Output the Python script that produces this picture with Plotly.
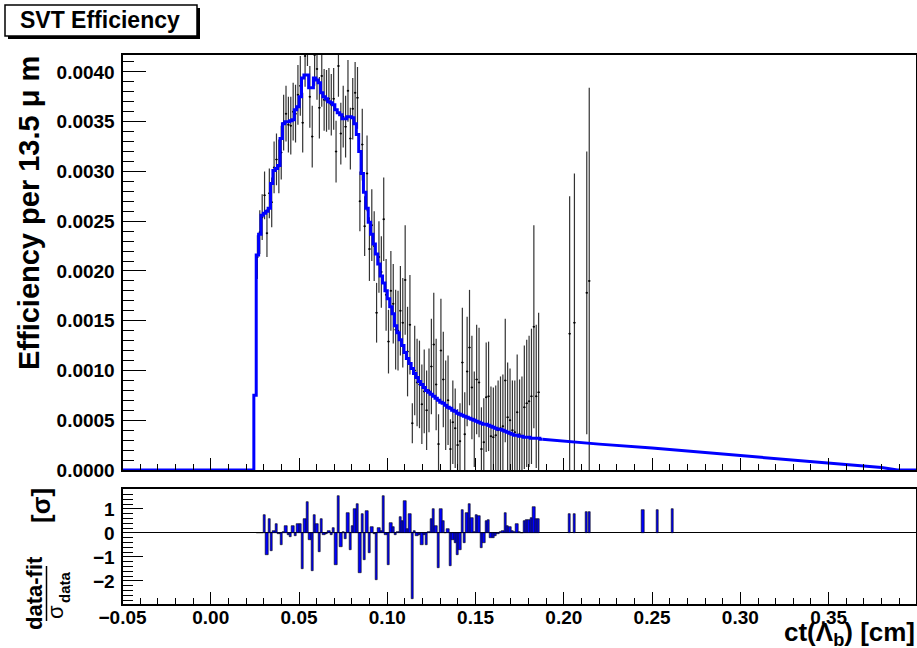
import plotly.graph_objects as go

# ---------------- data ----------------
BIN_W = 0.00135          # 13.5 micron bins
CT_START = 0.0244        # left edge of first non-zero fit bin
X_MIN, X_MAX = -0.05, 0.3995

# fit (blue step curve), one value per bin starting at CT_START
fit_vals = [
    0.00075, 0.00216, 0.00237, 0.00256, 0.00258, 0.00260, 0.00263, 0.00288, 0.00301, 0.00303,
    0.00306, 0.00333, 0.00348, 0.00350, 0.00350, 0.00351, 0.00352, 0.00362, 0.00365, 0.00375,
    0.00394, 0.00397, 0.00397, 0.00384, 0.00384, 0.00394, 0.00392, 0.00389, 0.00379, 0.00375,
    0.00373, 0.00370, 0.00369, 0.00367, 0.00362, 0.00359, 0.00357, 0.00353, 0.00353, 0.00355,
    0.00355, 0.00354, 0.00348, 0.00337, 0.00320, 0.00298, 0.00279, 0.00263, 0.00249, 0.00237,
    0.00227, 0.00217, 0.00207, 0.00195, 0.00188, 0.00180, 0.00172, 0.00164, 0.00157, 0.00145,
    0.00138, 0.00131, 0.00125, 0.00118, 0.00112, 0.00107, 0.00102, 0.00097, 0.00093, 0.00089,
    0.00086, 0.00083, 0.00080, 0.00078, 0.00076, 0.00074, 0.00072, 0.00070, 0.00068, 0.00067,
    0.00065, 0.00063, 0.00062, 0.00060, 0.00059, 0.00057, 0.00056, 0.00055, 0.00054, 0.00053,
    0.00052, 0.00051, 0.00050, 0.00049, 0.00048, 0.00047, 0.00046, 0.00046, 0.00045, 0.00044,
    0.00043, 0.00042, 0.00041, 0.00041, 0.00040, 0.00039, 0.00038, 0.00037, 0.00036, 0.00035,
    0.00035, 0.00034, 0.00034, 0.00033, 0.00033, 0.00033, 0.00032, 0.00032, 0.00032, 0.00032,
    0.00031,
]
# smooth tail of the fit
tail_ct = [0.1878, 0.200, 0.220, 0.250, 0.300, 0.350, 0.380, 0.389, 0.3995]
tail_vals = [0.00031, 0.00029, 0.00026, 0.00022, 0.000145, 0.00007, 0.000025, 0.0, 0.0]

# data points: bins 1..119 (same binning as fit)
DATA_FIRST_BIN = 1
data_vals = [
    0.00214, 0.00239, 0.00254, 0.00276, 0.00238, 0.00278, 0.00269, 0.00304, 0.00312, 0.00305,
    0.00319, 0.00349, 0.00358, 0.00347, 0.00346, 0.00360, 0.00358, 0.00377, 0.00386, 0.00349,
    0.00416, 0.00437, 0.00375, 0.00335, 0.00417, 0.00403, 0.00364, 0.00396, 0.00372, 0.00371,
    0.00373, 0.00367, 0.00373, 0.00320, 0.00406, 0.00338, 0.00355, 0.00345, 0.00381, 0.00333,
    0.00363, 0.00379, 0.00374, 0.00270, 0.00327, 0.00245, 0.00298, 0.00222, 0.00246, 0.00225,
    0.00158, 0.00214, 0.00199, 0.00252, 0.00176, 0.00129, 0.00180, 0.00167, 0.00141, 0.00140,
    0.00160, 0.00148, 0.00191, 0.00119, 0.00146, 0.00047, 0.00100, 0.00088, 0.00086, 0.00066,
    0.00079, 0.00060, 0.00080, 0.00104, 0.00126, 0.00086, 0.00026, 0.00120, 0.00091, 0.00065,
    0.00070, 0.00021, 0.00048, 0.00042, 0.00025, 0.00029, 0.00108, 0.00036, 0.00099, 0.00123,
    0.00083, 0.00051, 0.00091, 0.00088, 0.00021, 0.00028, 0.00073, 0.00074, 0.00034, 0.00033,
    0.00035, 0.00040, 0.00042, 0.00044, 0.00090, 0.00053, 0.00050, 0.00040, 0.00038, 0.00058,
    0.00036, 0.00034, 0.00063, 0.00067, 0.00069, 0.00074, 0.00144, 0.00074, 0.00078,
]
data_errs = [
    0.00022, 0.00022, 0.00023, 0.00024, 0.00024, 0.00025, 0.00025, 0.00026, 0.00026, 0.00027,
    0.00027, 0.00028, 0.00028, 0.00028, 0.00029, 0.00029, 0.00029, 0.00030, 0.00030, 0.00030,
    0.00031, 0.00031, 0.00031, 0.00031, 0.00031, 0.00031, 0.00031, 0.00031, 0.00031, 0.00031,
    0.00031, 0.00031, 0.00031, 0.00031, 0.00031, 0.00031, 0.00031, 0.00031, 0.00031, 0.00031,
    0.00031, 0.00031, 0.00031, 0.00030, 0.00036, 0.00030, 0.00038, 0.00032, 0.00036, 0.00035,
    0.00030, 0.00036, 0.00036, 0.00042, 0.00036, 0.00032, 0.00040, 0.00040, 0.00040, 0.00040,
    0.00045, 0.00045, 0.00055, 0.00045, 0.00050, 0.00020, 0.00045, 0.00044, 0.00044, 0.00040,
    0.00042, 0.00040, 0.00042, 0.00048, 0.00052, 0.00046, 0.00030, 0.00052, 0.00048, 0.00045,
    0.00045, 0.00030, 0.00042, 0.00040, 0.00036, 0.00038, 0.00055, 0.00042, 0.00055, 0.00058,
    0.00052, 0.00048, 0.00055, 0.00055, 0.00042, 0.00044, 0.00055, 0.00055, 0.00050, 0.00050,
    0.00050, 0.00050, 0.00052, 0.00052, 0.00062, 0.00055, 0.00052, 0.00050, 0.00052, 0.00058,
    0.00055, 0.00060, 0.00062, 0.00064, 0.00066, 0.00068, 0.00102, 0.00072, 0.00080,
]
# (data-fit)/sigma for the same bins 1..119
pull_vals = [
    0.00, 0.00, 0.00, 0.74, -0.93, 0.60, -0.75, 0.10, 0.36, -0.05,
    -0.51, 0.05, 0.28, -0.10, -0.17, 0.28, -0.14, 0.39, 0.36, -1.49,
    0.60, 1.29, -0.30, -1.58, 0.74, 0.36, -0.80, 0.56, -0.10, -0.06,
    0.10, -0.08, 0.20, -1.35, 1.53, -0.60, 0.05, -0.25, 0.83, -0.72,
    0.30, 1.00, 1.20, -1.67, 0.80, -1.14, 0.92, -0.85, 0.25, -0.05,
    -1.97, 0.20, 0.10, 1.53, -0.10, -1.35, 0.40, 0.25, -0.10, 0.05,
    0.65, 0.50, 1.33, 0.15, 0.78, -2.75, 0.07, -0.11, -0.07, -0.49,
    -0.10, -0.49, 0.05, 0.58, 1.00, 0.30, -1.46, 1.00, 0.49, 0.00,
    0.15, -1.36, -0.28, -0.42, -0.90, -0.70, 0.97, -0.42, 0.83, 1.22,
    0.62, 0.02, 0.76, 0.72, -0.63, -0.42, 0.49, 0.53, -0.20, -0.20,
    -0.14, -0.03, 0.02, 0.07, 0.83, 0.28, 0.25, 0.07, 0.05, 0.39,
    0.03, 0.00, 0.49, 0.53, 0.55, 0.62, 1.10, 0.58, 0.58,
]
# isolated data points further out
iso_ct = [0.2033, 0.2060, 0.2130, 0.2144]
iso_vals = [0.00137, 0.00148, 0.00178, 0.00190]
iso_errs = [0.00138, 0.00150, 0.00142, 0.00194]
iso_pulls = [0.80, 0.80, 0.86, 0.86]
extra_pull_ct = [0.2448, 0.2531, 0.2614]
extra_pulls = [0.97, 0.97, 1.00]

# ---------------- build ----------------
W, H = 917, 648
def fx(p): return p / W
def fy(p): return 1 - p / H

n_fit = len(fit_vals)
fit_x = [X_MIN] + [CT_START + k * BIN_W for k in range(n_fit)] + [CT_START + n_fit * BIN_W]
fit_y = [0.0] + fit_vals + [fit_vals[-1]]

data_x = [CT_START + (DATA_FIRST_BIN + i + 0.5) * BIN_W for i in range(len(data_vals))]
half_w = [BIN_W / 2] * (len(data_x) + len(iso_ct))

fig = go.Figure()
fig.add_trace(go.Scatter(
    x=data_x + iso_ct, y=data_vals + iso_vals, mode="markers",
    marker=dict(color="black", size=2),
    error_y=dict(type="data", array=data_errs + iso_errs, color="#333333", thickness=1.2, width=0),
    error_x=dict(type="data", array=half_w, color="#333333", thickness=1, width=0),
    xaxis="x", yaxis="y", showlegend=False, hoverinfo="skip"))
fig.add_trace(go.Scatter(x=fit_x, y=fit_y, mode="lines", line=dict(color="#0000ff", width=3, shape="hv"),
                         xaxis="x", yaxis="y", showlegend=False))
fig.add_trace(go.Scatter(x=tail_ct, y=tail_vals, mode="lines", line=dict(color="#0000ff", width=3),
                         xaxis="x", yaxis="y", showlegend=False))

fig.add_trace(go.Bar(
    x=data_x + iso_ct + extra_pull_ct, y=pull_vals + iso_pulls + extra_pulls,
    width=BIN_W, marker=dict(color="#0000ff", line=dict(color="black", width=0.6)),
    xaxis="x2", yaxis="y2", showlegend=False))

font = dict(family="Liberation Sans, Arial, sans-serif", size=19, color="black", weight="bold")
xdom = [fx(122.5), fx(916)]
axis_common = dict(showline=True, linecolor="black", linewidth=2, mirror=True, showgrid=False,
                   automargin=False,
                   ticks="inside", tickcolor="black", tickwidth=1, tickfont=font)

fig.update_layout(
    template="none",
    width=W, height=H, margin=dict(l=0, r=0, t=0, b=0, pad=0), autosize=False,
    paper_bgcolor="white", plot_bgcolor="white", bargap=0, showlegend=False,
    xaxis=dict(domain=xdom, range=[X_MIN, X_MAX], anchor="y", showticklabels=False,
               tick0=0, dtick=0.05, ticklen=12, zeroline=False,
               minor=dict(dtick=0.01, tick0=0, ticklen=6, ticks="inside", tickcolor="black"),
               **axis_common),
    yaxis=dict(domain=[fy(470), fy(55)], range=[0, 0.00417], anchor="x",
               tick0=0, dtick=0.0005, tickformat=".4f", ticklen=23, zeroline=False,
               ticklabelstandoff=2,
               minor=dict(dtick=0.0001, tick0=0, ticklen=11, ticks="inside", tickcolor="black"),
               **axis_common),
    xaxis2=dict(domain=xdom, range=[X_MIN, X_MAX], anchor="y2", matches="x",
                tick0=0, dtick=0.05, tickformat=".2f", ticklen=12, zeroline=False,
                ticklabelstandoff=-5,
                minor=dict(dtick=0.01, tick0=0, ticklen=6, ticks="inside", tickcolor="black"),
                **axis_common),
    yaxis2=dict(domain=[fy(604), fy(489)], range=[-2.96, 1.83], anchor="x2",
                tick0=0, dtick=1, ticklen=20, zeroline=True, zerolinecolor="black", zerolinewidth=1,
                ticklabelstandoff=2,
                minor=dict(dtick=0.2, tick0=0, ticklen=10, ticks="inside", tickcolor="black"),
                **axis_common),
)

shapes = [
    dict(type="rect", xref="paper", yref="paper", x0=fx(8), x1=fx(200), y0=fy(39), y1=fy(8),
         fillcolor="black", line=dict(width=0)),
    dict(type="rect", xref="paper", yref="paper", x0=fx(5), x1=fx(197), y0=fy(36), y1=fy(5),
         fillcolor="white", line=dict(color="black", width=1.5)),
    dict(type="line", xref="paper", yref="paper", x0=fx(46.5), x1=fx(46.5), y0=fy(621), y1=fy(566),
         line=dict(color="black", width=1.5)),
]
fig.update_layout(shapes=shapes)

tfont = lambda s: dict(family="Liberation Sans, Arial, sans-serif", size=s, color="black")
annotations = [
    dict(text="<b>SVT Efficiency</b>", x=fx(100), y=fy(20.5), xref="paper", yref="paper",
         showarrow=False, font=tfont(23), xanchor="center", yanchor="middle"),
    dict(text="<b>Efficiency per 13.5 μ m</b>", x=fx(29), y=fy(54), xref="paper", yref="paper",
         showarrow=False, font=tfont(29), textangle=-90, xanchor="center", yanchor="top"),
    dict(text="<b>ct(Λ<sub>b</sub>) [cm]</b>", x=fx(917), y=fy(633), xref="paper", yref="paper",
         showarrow=False, font=tfont(26), xanchor="right", yanchor="middle"),
    dict(text="<b>data-fit</b>", x=fx(34), y=fy(593), xref="paper", yref="paper",
         showarrow=False, font=tfont(22), textangle=-90, xanchor="center", yanchor="middle"),
    dict(text="σ", x=fx(55), y=fy(612), xref="paper", yref="paper",
         showarrow=False, font=tfont(22), textangle=-90, xanchor="center", yanchor="middle"),
    dict(text="<b>data</b>", x=fx(64), y=fy(587), xref="paper", yref="paper",
         showarrow=False, font=tfont(15), textangle=-90, xanchor="center", yanchor="middle"),
    dict(text="<b>[σ]</b>", x=fx(41), y=fy(506), xref="paper", yref="paper",
         showarrow=False, font=tfont(26), textangle=-90, xanchor="center", yanchor="middle"),
]
fig.update_layout(annotations=annotations)

fig.write_html("out.html", config={"displayModeBar": False},
               post_script="document.body.style.margin='0';")
